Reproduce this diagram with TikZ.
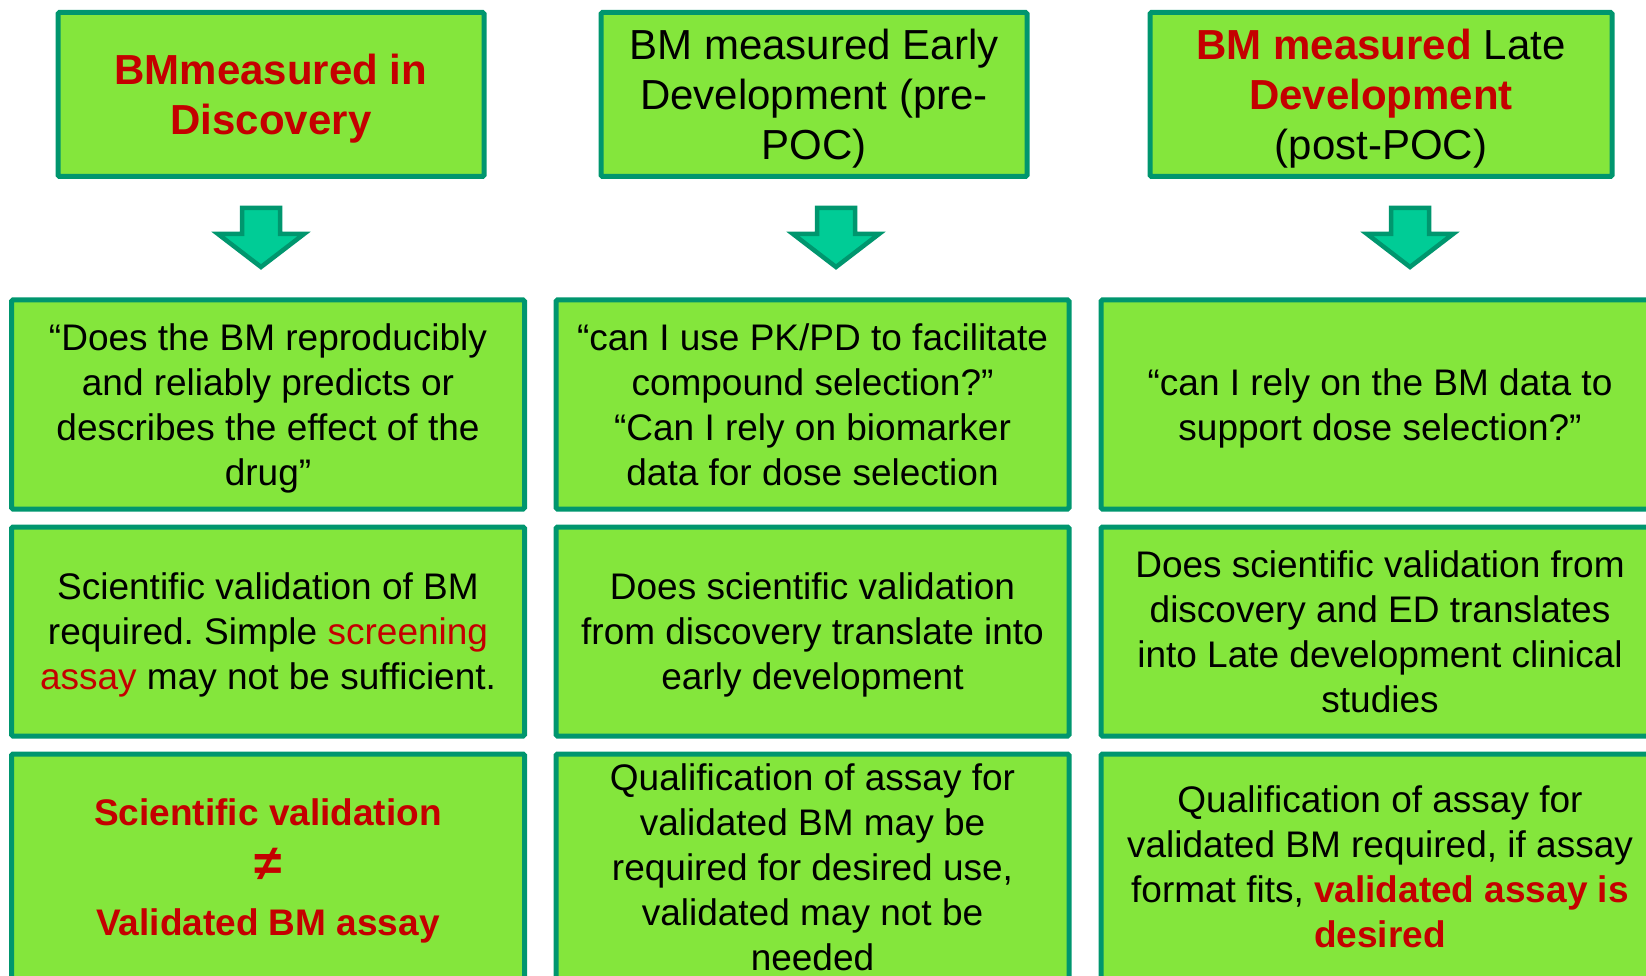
\documentclass[tikz,border=0pt]{standalone}
\usepackage{fontspec}
\setmainfont{Liberation Sans}
\frenchspacing
\definecolor{boxfill}{HTML}{84E63C}
\definecolor{boxline}{HTML}{00966E}
\definecolor{arrfill}{HTML}{00CC96}
\definecolor{hired}{HTML}{C40000}
\begin{document}
\begin{tikzpicture}[x=1pt,y=-1pt,
 cell/.style={draw=boxline, fill=boxfill, line width=5pt, rounded corners=1.5pt,
   align=center, inner sep=0pt, text depth=0pt, font=\fontsize{37}{45}\selectfont},
 head/.style={cell, font=\fontsize{42}{50}\selectfont},
 blockarrow/.style={draw=boxline, fill=arrfill, line width=4.5pt, line join=miter}]
\useasboundingbox (0,0) rectangle (1646,976);
\clip (0,0) rectangle (1646,976);
% top row
\node[head, text=hired, font=\fontsize{42}{50}\selectfont\bfseries,
  minimum width=426, minimum height=164] (h1) at (271,94.5) {BMmeasured in\\Discovery};
\node[head, minimum width=426, minimum height=164] (h2) at (814,94.5)
  {BM measured Early\\Development (pre-\\POC)};
\node[head, minimum width=462, minimum height=164] (h3) at (1381,94.5)
  {\textcolor{hired}{\textbf{BM measured}} Late\\\textcolor{hired}{\textbf{Development}}\\(post-POC)};
% arrows
\coordinate (a1) at (261,208);
\coordinate (a2) at (836,208);
\coordinate (a3) at (1410,208);
\foreach \a in {a1,a2,a3}{
  \draw[blockarrow] (\a) ++(-19,0) -- ++(38,0) -- ++(0,26) -- ++(24,0) -- ++(-43,33) -- ++(-43,-33) -- ++(24,0) -- cycle;
}
% row 2
\node[cell, minimum width=513, minimum height=209] (r2c1) at (268,404.5)
  {“Does the BM reproducibly\\and reliably predicts or\\describes the effect of the\\drug”};
\node[cell, minimum width=513, minimum height=209] (r2c2) at (812.5,404.5)
  {“can I use PK/PD to facilitate\\compound selection?”\\“Can I rely on biomarker\\data for dose selection};
\node[cell, minimum width=558, minimum height=209] (r2c3) at (1380,404.5)
  {“can I rely on the BM data to\\support dose selection?”};
% row 3
\node[cell, minimum width=513, minimum height=209] (r3c1) at (268,631.5)
  {Scientific validation of BM\\required. Simple \textcolor{hired}{screening}\\\textcolor{hired}{assay} may not be sufficient.};
\node[cell, minimum width=513, minimum height=209] (r3c2) at (812.5,631.5)
  {Does scientific validation\\from discovery translate into\\early development};
\node[cell, minimum width=558, minimum height=209] (r3c3) at (1380,631.5)
  {Does scientific validation from\\discovery and ED translates\\into Late development clinical\\studies};
% row 4
\node[cell, text=hired, font=\fontsize{37}{55}\selectfont\bfseries,
  minimum width=513, minimum height=226] (r4c1) at (268,867)
  {Scientific validation\\{\fontsize{50}{55}\selectfont ≠}\\Validated BM assay};
\node[cell, minimum width=513, minimum height=226] (r4c2) at (812.5,867)
  {Qualification of assay for\\validated BM may be\\required for desired use,\\validated may not be\\needed};
\node[cell, minimum width=558, minimum height=226] (r4c3) at (1380,867)
  {Qualification of assay for\\validated BM required, if assay\\format fits, \textcolor{hired}{\textbf{validated assay is}}\\\textcolor{hired}{\textbf{desired}}};
\end{tikzpicture}
\end{document}
